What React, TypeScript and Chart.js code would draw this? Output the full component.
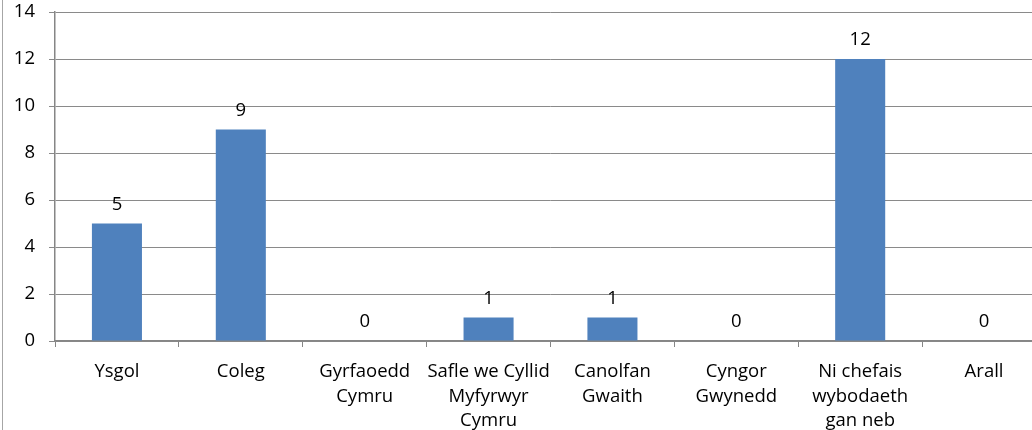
import React, { useEffect, useRef } from "react";
import { Chart, registerables } from "chart.js";

Chart.register(...registerables);

const categories: string[][] = [
  ["Ysgol"],
  ["Coleg"],
  ["Gyrfaoedd", "Cymru"],
  ["Safle we Cyllid", "Myfyrwyr", "Cymru"],
  ["Canolfan", "Gwaith"],
  ["Cyngor", "Gwynedd"],
  ["Ni chefais", "wybodaeth", "gan neb"],
  ["Arall"],
];
const values: number[] = [5, 9, 0, 1, 1, 0, 12, 0];
const yMin = 0;
const yMax = 14;
const yStep = 2;

const FONT = "'Open Sans', sans-serif";
const FONT_SIZE = 18.5;

const dataLabelPlugin = {
  id: "dataLabels",
  afterDatasetsDraw(chart: any) {
    const ctx = chart.ctx;
    ctx.save();
    ctx.font = `${FONT_SIZE}px ${FONT}`;
    ctx.fillStyle = "#000";
    ctx.textAlign = "center";
    ctx.textBaseline = "alphabetic";
    chart.data.datasets.forEach((ds: any, i: number) => {
      const meta = chart.getDatasetMeta(i);
      meta.data.forEach((el: any, j: number) => {
        ctx.fillText(String(ds.data[j]), el.x, el.y - 14);
      });
    });
    ctx.restore();
  },
};

export default function App() {
  const ref = useRef<HTMLCanvasElement | null>(null);
  useEffect(() => {
    if (!ref.current) return;
    const chart = new Chart(ref.current, {
      type: "bar",
      data: {
        labels: categories,
        datasets: [
          {
            data: values,
            backgroundColor: "#4F81BD",
            borderWidth: 0,
            categoryPercentage: 1,
            barPercentage: 0.404,
          },
        ],
      },
      options: {
        animation: false,
        responsive: true,
        maintainAspectRatio: false,
        layout: { padding: { top: 0, left: 0, right: 4, bottom: 0 } },
        plugins: { legend: { display: false }, tooltip: { enabled: false } },
        scales: {
          x: {
            offset: true,
            grid: {
              display: true,
              drawOnChartArea: false,
              drawTicks: true,
              tickLength: 6,
              color: "#868686",
              offset: true,
            },
            border: { display: true, color: "#868686", width: 1.5 },
            ticks: {
              color: "#000",
              font: { family: FONT, size: FONT_SIZE, lineHeight: 1.32 },
              padding: 13,
              maxRotation: 0,
              autoSkip: false,
            },
            afterFit(scale: any) {
              scale.height = 89;
            },
          },
          y: {
            min: yMin,
            max: yMax,
            ticks: {
              stepSize: yStep,
              color: "#000",
              font: { family: FONT, size: FONT_SIZE },
              padding: 14,
            },
            grid: {
              color: "#8a8a8a",
              lineWidth: 1,
              drawTicks: true,
              tickLength: 6,
            },
            border: { display: true, color: "#868686", width: 1.5 },
            afterFit(scale: any) {
              scale.width = 55;
              scale.paddingTop = 12;
            },
          },
        },
      },
      plugins: [dataLabelPlugin],
    });
    return () => chart.destroy();
  }, []);
  return (
    <div
      style={{
        position: "fixed",
        left: 0,
        top: 0,
        width: 1032,
        height: 430,
        overflow: "hidden",
        background: "#fff",
      }}
    >
      <div
        style={{
          position: "absolute",
          left: 2,
          top: 0,
          width: 1,
          height: 430,
          background: "#a6a6a6",
        }}
      />
      <div style={{ position: "absolute", left: 0, top: 0, width: 1050, height: 430 }}>
        <canvas ref={ref} />
      </div>
    </div>
  );
}
